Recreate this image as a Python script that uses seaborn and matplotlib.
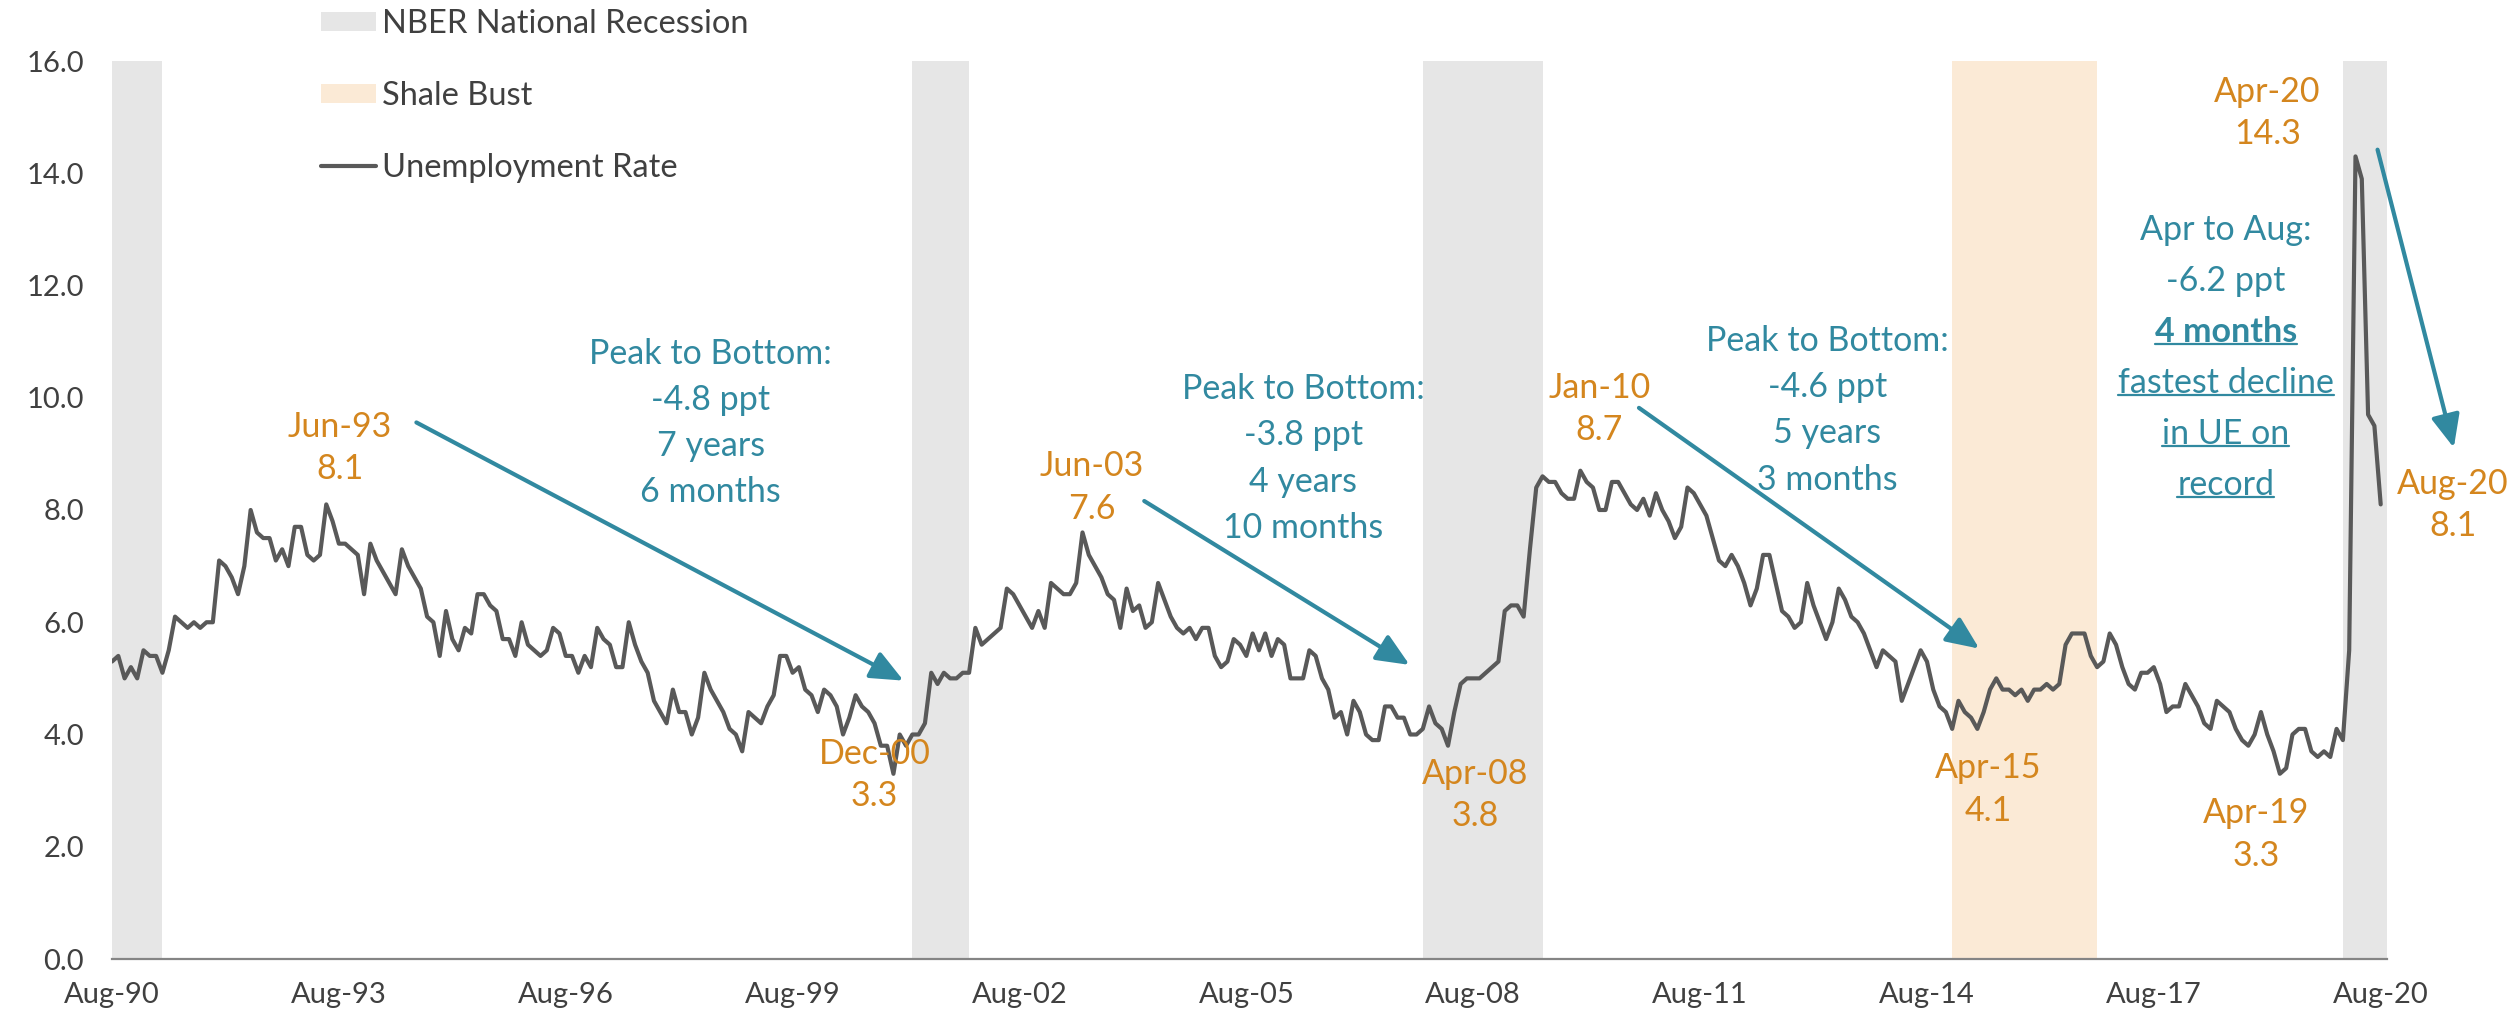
import matplotlib
matplotlib.use("Agg")
import matplotlib.pyplot as plt
import matplotlib.transforms as mtransforms
from matplotlib.patches import Patch
from matplotlib.lines import Line2D
import pandas as pd
import seaborn as sns

# monthly unemployment rate (%), Aug-90 .. Aug-20
rate_90_95 = [5.3, 5.4, 5.0, 5.2, 5.0, 5.5, 5.4, 5.4, 5.1, 5.5,
              6.1, 6.0, 5.9, 6.0, 5.9, 6.0, 6.0, 7.1, 7.0, 6.8,
              6.5, 7.0, 8.0, 7.6, 7.5, 7.5, 7.1, 7.3, 7.0, 7.7,
              7.7, 7.2, 7.1, 7.2, 8.1, 7.8, 7.4, 7.4, 7.3, 7.2,
              6.5, 7.4, 7.1, 6.9, 6.7, 6.5, 7.3, 7.0, 6.8, 6.6,
              6.1, 6.0, 5.4, 6.2, 5.7, 5.5, 5.9, 5.8, 6.5, 6.5]
rate_95_00 = [6.3, 6.2, 5.7, 5.7, 5.4, 6.0, 5.6, 5.5, 5.4, 5.5,
              5.9, 5.8, 5.4, 5.4, 5.1, 5.4, 5.2, 5.9, 5.7, 5.6,
              5.2, 5.2, 6.0, 5.6, 5.3, 5.1, 4.6, 4.4, 4.2, 4.8,
              4.4, 4.4, 4.0, 4.3, 5.1, 4.8, 4.6, 4.4, 4.1, 4.0,
              3.7, 4.4, 4.3, 4.2, 4.5, 4.7, 5.4, 5.4, 5.1, 5.2,
              4.8, 4.7, 4.4, 4.8, 4.7, 4.5, 4.0, 4.3, 4.7, 4.5]
rate_00_05 = [4.4, 4.2, 3.8, 3.8, 3.3, 4.0, 3.8, 4.0, 4.0, 4.2,
              5.1, 4.9, 5.1, 5.0, 5.0, 5.1, 5.1, 5.9, 5.6, 5.7,
              5.8, 5.9, 6.6, 6.5, 6.3, 6.1, 5.9, 6.2, 5.9, 6.7,
              6.6, 6.5, 6.5, 6.7, 7.6, 7.2, 7.0, 6.8, 6.5, 6.4,
              5.9, 6.6, 6.2, 6.3, 5.9, 6.0, 6.7, 6.4, 6.1, 5.9,
              5.8, 5.9, 5.7, 5.9, 5.9, 5.4, 5.2, 5.3, 5.7, 5.6]
rate_05_10 = [5.4, 5.8, 5.5, 5.8, 5.4, 5.7, 5.6, 5.0, 5.0, 5.0,
              5.5, 5.4, 5.0, 4.8, 4.3, 4.4, 4.0, 4.6, 4.4, 4.0,
              3.9, 3.9, 4.5, 4.5, 4.3, 4.3, 4.0, 4.0, 4.1, 4.5,
              4.2, 4.1, 3.8, 4.4, 4.9, 5.0, 5.0, 5.0, 5.1, 5.2,
              5.3, 6.2, 6.3, 6.3, 6.1, 7.3, 8.4, 8.6, 8.5, 8.5,
              8.3, 8.2, 8.2, 8.7, 8.5, 8.4, 8.0, 8.0, 8.5, 8.5]
rate_10_15 = [8.3, 8.1, 8.0, 8.2, 7.9, 8.3, 8.0, 7.8, 7.5, 7.7,
              8.4, 8.3, 8.1, 7.9, 7.5, 7.1, 7.0, 7.2, 7.0, 6.7,
              6.3, 6.6, 7.2, 7.2, 6.7, 6.2, 6.1, 5.9, 6.0, 6.7,
              6.3, 6.0, 5.7, 6.0, 6.6, 6.4, 6.1, 6.0, 5.8, 5.5,
              5.2, 5.5, 5.4, 5.3, 4.6, 4.9, 5.2, 5.5, 5.3, 4.8,
              4.5, 4.4, 4.1, 4.6, 4.4, 4.3, 4.1, 4.4, 4.8, 5.0]
rate_15_20 = [4.8, 4.8, 4.7, 4.8, 4.6, 4.8, 4.8, 4.9, 4.8, 4.9,
              5.6, 5.8, 5.8, 5.8, 5.4, 5.2, 5.3, 5.8, 5.6, 5.2,
              4.9, 4.8, 5.1, 5.1, 5.2, 4.9, 4.4, 4.5, 4.5, 4.9,
              4.7, 4.5, 4.2, 4.1, 4.6, 4.5, 4.4, 4.1, 3.9, 3.8,
              4.0, 4.4, 4.0, 3.7, 3.3, 3.4, 4.0, 4.1, 4.1, 3.7,
              3.6, 3.7, 3.6, 4.1, 3.9, 5.5, 14.3, 13.9, 9.7, 9.5,
              8.1]

rate = rate_90_95 + rate_95_00 + rate_00_05 + rate_05_10 + rate_10_15 + rate_15_20
months = list(range(len(rate)))  # 0 = Aug-90

x_tick_pos = list(range(0, 361, 36))
x_tick_labels = ["Aug-90", "Aug-93", "Aug-96", "Aug-99", "Aug-02", "Aug-05",
                 "Aug-08", "Aug-11", "Aug-14", "Aug-17", "Aug-20"]
y_ticks = [0, 2, 4, 6, 8, 10, 12, 14, 16]

# shaded periods, in months since Aug-90
recession_starts = [0, 127, 208, 354]
recession_ends = [8, 136, 227, 361]
shale_start, shale_end = 292, 315

LINE = "#595959"
GREY_BAND = "#E6E6E6"
SHALE = "#FBEAD6"
TEAL = "#3189A0"
ORANGE = "#D4861E"
TICK_TXT = "#404040"

sns.set_style("white")
plt.rcParams["font.family"] = ["Lato", "DejaVu Sans"]

df = pd.DataFrame({"month": months, "rate": rate})

fig = plt.figure(figsize=(25.19, 10.13), dpi=100)
ax = fig.add_axes([112 / 2519, 54 / 1013, 2275 / 2519, 898 / 1013])

for s, e in zip(recession_starts, recession_ends):
    ax.axvspan(s, e, color=GREY_BAND, lw=0, zorder=0)
ax.axvspan(shale_start, shale_end, color=SHALE, lw=0, zorder=0)

sns.lineplot(data=df, x="month", y="rate", color=LINE, lw=3, ax=ax, zorder=3)

ax.set_xlim(0, 361)
ax.set_ylim(0, 16)
ax.set_xticks(x_tick_pos)
ax.set_xticklabels(x_tick_labels)
ax.set_yticks(y_ticks)
ax.set_yticklabels([f"{v:.1f}" for v in y_ticks])
ax.set_xlabel("")
ax.set_ylabel("")
for side in ["top", "right", "left"]:
    ax.spines[side].set_visible(False)
ax.spines["bottom"].set_color("#858585")
ax.spines["bottom"].set_linewidth(1.6)
ax.tick_params(axis="x", length=6.5, width=1, color="#858585", pad=10,
               labelsize=21, labelcolor=TICK_TXT)
ax.tick_params(axis="y", length=0, pad=20, labelsize=21, labelcolor=TICK_TXT)
ax.grid(False)

# legend
handles = [Patch(facecolor=GREY_BAND, edgecolor="none"),
           Patch(facecolor=SHALE, edgecolor="none"),
           Line2D([0], [0], color=LINE, lw=3)]
labels = ["NBER National Recession", "Shale Bust", "Unemployment Rate"]
fig.legend(handles, labels, loc="upper left", bbox_to_anchor=(321 / 2519, 1 - 9 / 1013),
           frameon=False, fontsize=23.5, labelcolor=TICK_TXT, handlelength=1.7,
           handleheight=0.52, handletextpad=0.17, labelspacing=1.28,
           borderpad=0, borderaxespad=0)

# orange point labels
orange_kw = dict(color=ORANGE, fontsize=24.5, ha="center", va="center",
                 linespacing=1.4, zorder=5)
ax.text(36.2, 9.1, "Jun-93\n8.1", **orange_kw)
ax.text(121, 3.28, "Dec-00\n3.3", **orange_kw)
ax.text(155.5, 8.4, "Jun-03\n7.6", **orange_kw)
ax.text(216.3, 2.92, "Apr-08\n3.8", **orange_kw)
ax.text(236, 9.8, "Jan-10\n8.7", **orange_kw)
ax.text(297.7, 3.02, "Apr-15\n4.1", **orange_kw)
ax.text(340.3, 2.22, "Apr-19\n3.3", **orange_kw)
ax.text(342, 15.07, "Apr-20\n14.3", **orange_kw)
ax.text(371.4, 8.09, "Aug-20\n8.1", clip_on=False, **orange_kw)

# teal peak-to-bottom notes
teal_kw = dict(color=TEAL, fontsize=24.5, ha="center", va="center",
               linespacing=1.55, zorder=5)
ax.text(95, 9.55, "Peak to Bottom:\n-4.8 ppt\n7 years\n6 months", **teal_kw)
ax.text(189, 8.92, "Peak to Bottom:\n-3.8 ppt\n4 years\n10 months", **teal_kw)
ax.text(272.2, 9.78, "Peak to Bottom:\n-4.6 ppt\n5 years\n3 months", **teal_kw)

# covid note, some lines bold / underlined
covid_lines = [("Apr to Aug:", 12.99, "normal", False),
               ("-6.2 ppt", 12.08, "normal", False),
               ("4 months", 11.17, "bold", True),
               ("fastest decline", 10.27, "normal", True),
               ("in UE on", 9.36, "normal", True),
               ("record", 8.45, "normal", True)]
underlined = []
for txt, yv, wt, ul in covid_lines:
    t = ax.text(335.4, yv, txt, color=TEAL, fontsize=24.5, fontweight=wt,
                ha="center", va="center", zorder=5)
    if ul:
        underlined.append(t)

# arrows
arrow_kw = dict(arrowstyle="-|>,head_length=0.8,head_width=0.35", color=TEAL,
                lw=3, shrinkA=0, shrinkB=0, mutation_scale=25)
arrows = [((48.3, 9.56), (125.6, 4.96)),
          ((163.8, 8.16), (205.9, 5.24)),
          ((242.3, 9.82), (296.3, 5.53)),
          ((359.5, 14.42), (371.6, 9.11))]
for start, end in arrows:
    ax.annotate("", xy=end, xytext=start, arrowprops=arrow_kw,
                annotation_clip=False, zorder=6)

fig.canvas.draw()
for t in underlined:
    bb = t.get_window_extent()
    y = bb.y0 + 4
    fig.add_artist(Line2D([bb.x0, bb.x1], [y, y], color=TEAL, lw=1.6,
                          transform=mtransforms.IdentityTransform()))

fig.savefig("out.png", dpi=100)
